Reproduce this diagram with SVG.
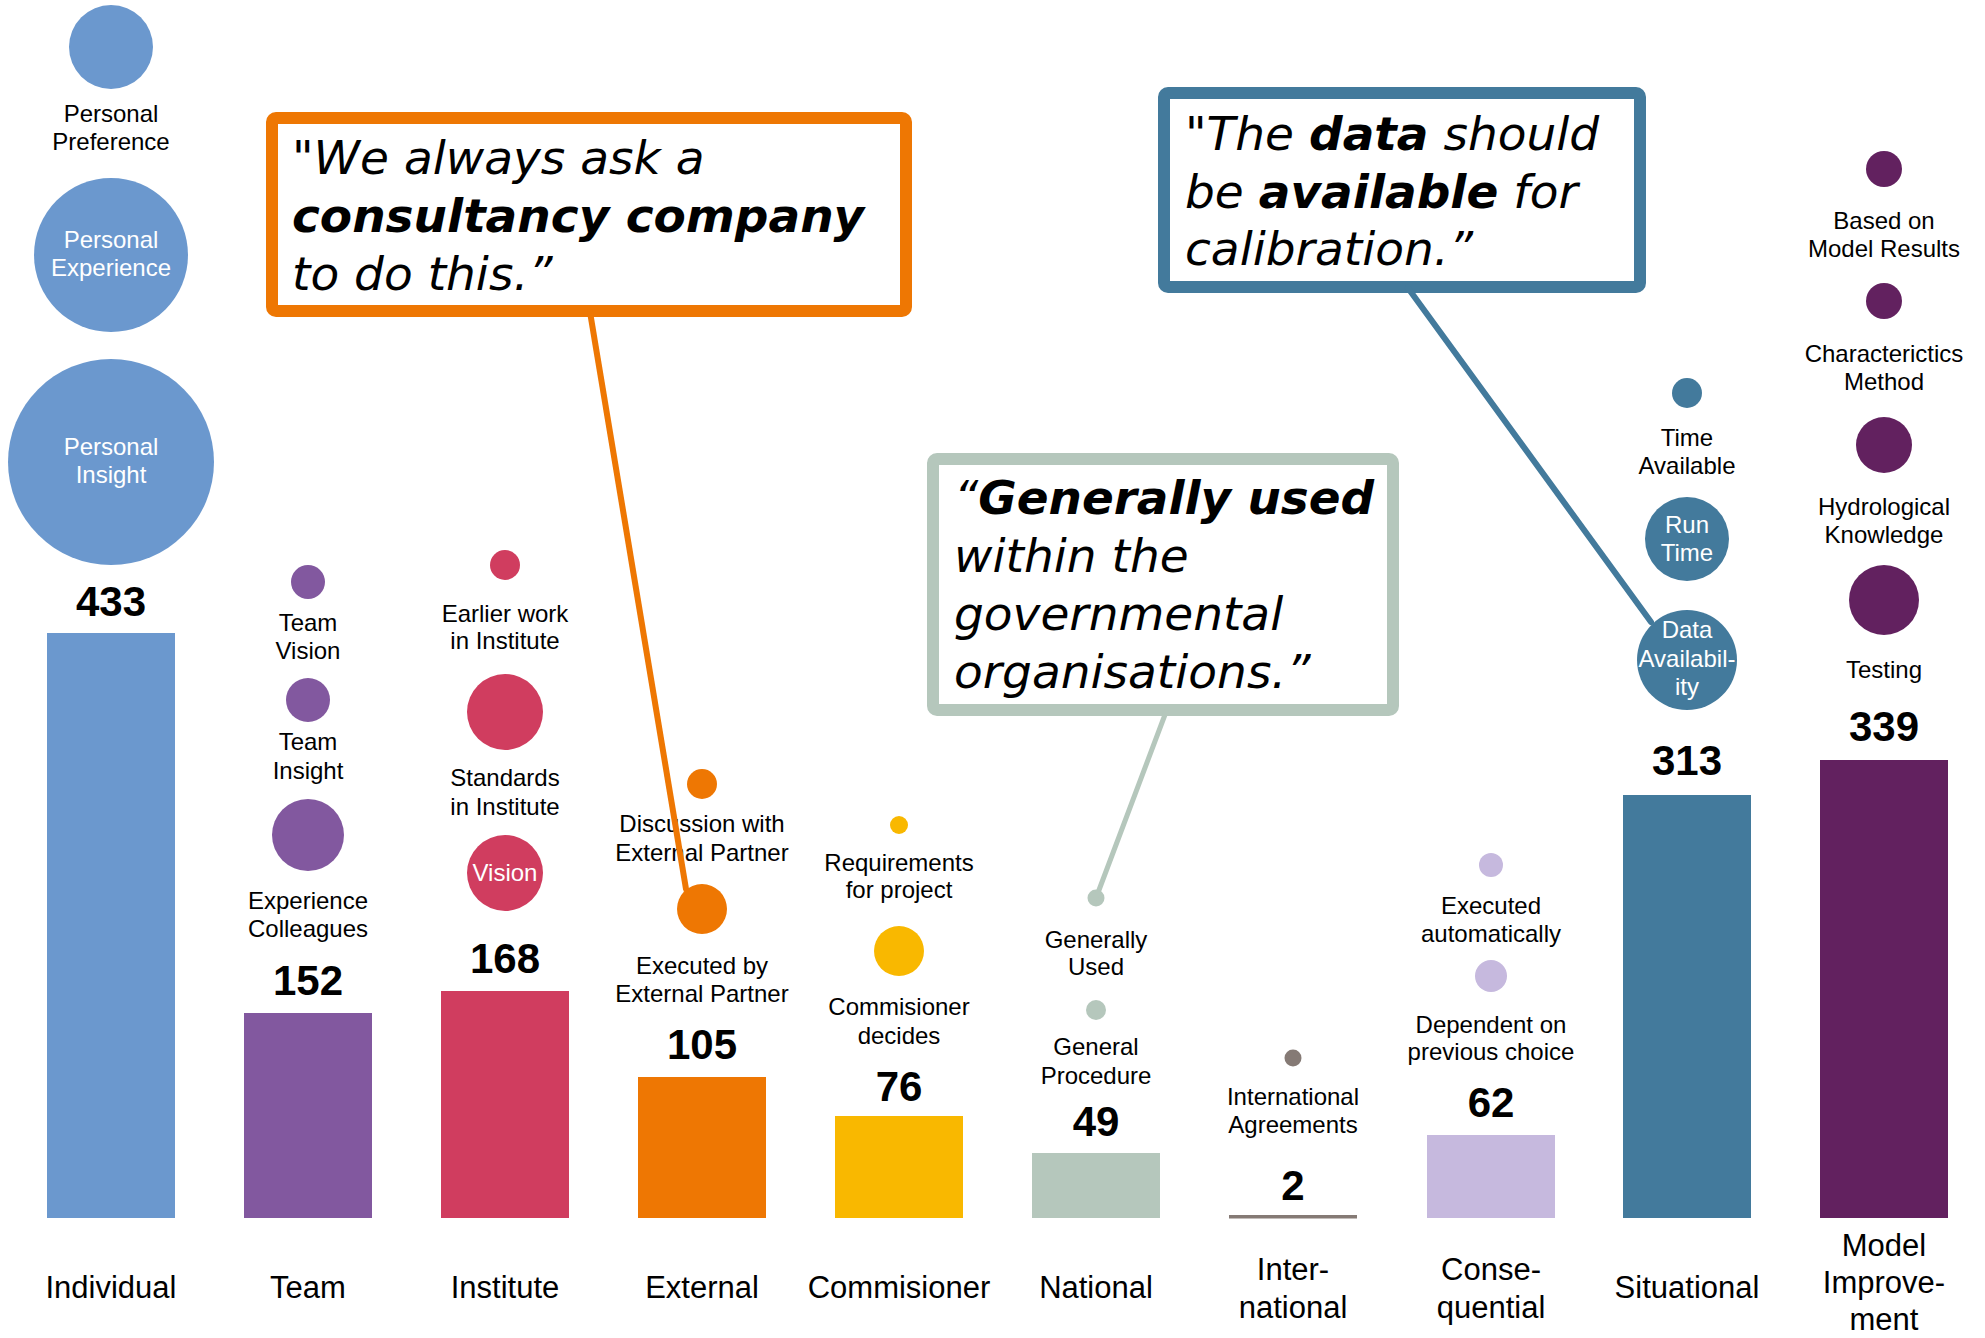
<svg xmlns="http://www.w3.org/2000/svg" width="1985" height="1338" viewBox="0 0 1985 1338">
<style>
text{font-family:"Liberation Sans",Arial,sans-serif;text-anchor:middle}
.l{font-size:24px;fill:#000}
.w{font-size:24px;fill:#fff}
.n{font-size:42px;font-weight:bold;fill:#000}
.c{font-size:31px;fill:#000}
.q{font-family:"DejaVu Sans",Verdana,sans-serif;font-size:47px;font-style:italic;text-anchor:start;fill:#000}
.b{font-weight:bold}
.box{fill:#fff;stroke-width:12}
.conn{fill:none;stroke-linecap:round}
.c1{fill:#6B98CE}.c2{fill:#82589F}.c3{fill:#D03D5F}.c4{fill:#EE7703}.c5{fill:#F9B800}
.c6{fill:#B5C7BC}.c7{fill:#857A75}.c8{fill:#C6B9DE}.c9{fill:#437A9C}.c10{fill:#62215F}
</style>
<rect width="1985" height="1338" fill="#fff"/>

<g id="col-individual">
<circle class="c1" cx="111" cy="47" r="42"/>
<text class="l" x="111" y="122">Personal</text><text class="l" x="111" y="150">Preference</text>
<circle class="c1" cx="111" cy="255" r="77"/>
<text class="w" x="111" y="248">Personal</text><text class="w" x="111" y="276">Experience</text>
<circle class="c1" cx="111" cy="462" r="103"/>
<text class="w" x="111" y="455">Personal</text><text class="w" x="111" y="483">Insight</text>
<text class="n" x="111" y="616">433</text>
<rect class="c1" x="47" y="633" width="128" height="585"/>
<text class="c" x="111" y="1298">Individual</text>
</g>

<g id="col-team">
<circle class="c2" cx="308" cy="582" r="17"/>
<text class="l" x="308" y="631">Team</text><text class="l" x="308" y="659">Vision</text>
<circle class="c2" cx="308" cy="700" r="22"/>
<text class="l" x="308" y="750">Team</text><text class="l" x="308" y="779">Insight</text>
<circle class="c2" cx="308" cy="835" r="36"/>
<text class="l" x="308" y="909">Experience</text><text class="l" x="308" y="937">Colleagues</text>
<text class="n" x="308" y="995">152</text>
<rect class="c2" x="244" y="1013" width="128" height="205"/>
<text class="c" x="308" y="1298">Team</text>
</g>

<g id="col-institute">
<circle class="c3" cx="505" cy="565" r="15"/>
<text class="l" x="505" y="622">Earlier work</text><text class="l" x="505" y="649">in Institute</text>
<circle class="c3" cx="505" cy="712" r="38"/>
<text class="l" x="505" y="786">Standards</text><text class="l" x="505" y="815">in Institute</text>
<circle class="c3" cx="505" cy="873" r="38"/>
<text class="w" x="505" y="881">Vision</text>
<text class="n" x="505" y="973">168</text>
<rect class="c3" x="441" y="991" width="128" height="227"/>
<text class="c" x="505" y="1298">Institute</text>
</g>

<g id="col-external">
<circle class="c4" cx="702" cy="784" r="15"/>
<text class="l" x="702" y="832">Discussion with</text><text class="l" x="702" y="861">External Partner</text>
<circle class="c4" cx="702" cy="909" r="25"/>
<text class="l" x="702" y="974">Executed by</text><text class="l" x="702" y="1002">External Partner</text>
<text class="n" x="702" y="1059">105</text>
<rect class="c4" x="638" y="1077" width="128" height="141"/>
<text class="c" x="702" y="1298">External</text>
</g>

<g id="col-commisioner">
<circle class="c5" cx="899" cy="825" r="9"/>
<text class="l" x="899" y="871">Requirements</text><text class="l" x="899" y="898">for project</text>
<circle class="c5" cx="899" cy="951" r="25"/>
<text class="l" x="899" y="1015">Commisioner</text><text class="l" x="899" y="1044">decides</text>
<text class="n" x="899" y="1101">76</text>
<rect class="c5" x="835" y="1116" width="128" height="102"/>
<text class="c" x="899" y="1298">Commisioner</text>
</g>

<g id="col-national">
<circle class="c6" cx="1096" cy="898" r="8.5"/>
<text class="l" x="1096" y="948">Generally</text><text class="l" x="1096" y="975">Used</text>
<circle class="c6" cx="1096" cy="1010" r="10"/>
<text class="l" x="1096" y="1055">General</text><text class="l" x="1096" y="1084">Procedure</text>
<text class="n" x="1096" y="1136">49</text>
<rect class="c6" x="1032" y="1153" width="128" height="65"/>
<text class="c" x="1096" y="1298">National</text>
</g>

<g id="col-international">
<circle class="c7" cx="1293" cy="1058" r="8.5"/>
<text class="l" x="1293" y="1105">International</text><text class="l" x="1293" y="1133">Agreements</text>
<text class="n" x="1293" y="1200">2</text>
<rect class="c7" x="1229" y="1215" width="128" height="3.5"/>
<text class="c" x="1293" y="1280">Inter-</text><text class="c" x="1293" y="1318">national</text>
</g>

<g id="col-consequential">
<circle class="c8" cx="1491" cy="865" r="12"/>
<text class="l" x="1491" y="914">Executed</text><text class="l" x="1491" y="942">automatically</text>
<circle class="c8" cx="1491" cy="976" r="16"/>
<text class="l" x="1491" y="1033">Dependent on</text><text class="l" x="1491" y="1060">previous choice</text>
<text class="n" x="1491" y="1117">62</text>
<rect class="c8" x="1427" y="1135" width="128" height="83"/>
<text class="c" x="1491" y="1280">Conse-</text><text class="c" x="1491" y="1318">quential</text>
</g>

<g id="col-situational">
<circle class="c9" cx="1687" cy="393" r="15"/>
<text class="l" x="1687" y="446">Time</text><text class="l" x="1687" y="474">Available</text>
<circle class="c9" cx="1687" cy="539" r="42"/>
<text class="w" x="1687" y="533">Run</text><text class="w" x="1687" y="561">Time</text>
<circle class="c9" cx="1687" cy="660" r="50"/>
<text class="w" x="1687" y="638">Data</text><text class="w" x="1687" y="667">Availabil-</text><text class="w" x="1687" y="695">ity</text>
<text class="n" x="1687" y="775">313</text>
<rect class="c9" x="1623" y="795" width="128" height="423"/>
<text class="c" x="1687" y="1298">Situational</text>
</g>

<g id="col-model">
<circle class="c10" cx="1884" cy="169" r="18"/>
<text class="l" x="1884" y="229">Based on</text><text class="l" x="1884" y="257">Model Results</text>
<circle class="c10" cx="1884" cy="301" r="18"/>
<text class="l" x="1884" y="362">Characterictics</text><text class="l" x="1884" y="390">Method</text>
<circle class="c10" cx="1884" cy="445" r="28"/>
<text class="l" x="1884" y="515">Hydrological</text><text class="l" x="1884" y="543">Knowledge</text>
<circle class="c10" cx="1884" cy="600" r="35"/>
<text class="l" x="1884" y="678">Testing</text>
<text class="n" x="1884" y="741">339</text>
<rect class="c10" x="1820" y="760" width="128" height="458"/>
<text class="c" x="1884" y="1256">Model</text><text class="c" x="1884" y="1293">Improve-</text><text class="c" x="1884" y="1330">ment</text>
</g>

<g id="quote-external">
<rect class="box" x="272" y="118" width="634" height="193" rx="4" stroke="#EE7703"/>
<text class="q" x="292" y="174">"We always ask a</text>
<text class="q" x="292" y="232"><tspan class="b">consultancy company</tspan></text>
<text class="q" x="292" y="290">to do this.”</text>
</g>

<g id="quote-situational">
<rect class="box" x="1164" y="93" width="476" height="194" rx="4" stroke="#437A9C"/>
<text class="q" x="1185" y="150">"The <tspan class="b">data</tspan> should</text>
<text class="q" x="1185" y="208">be <tspan class="b">available</tspan> for</text>
<text class="q" x="1185" y="265">calibration.”</text>
</g>

<g id="quote-national">
<rect class="box" x="933" y="459" width="460" height="251" rx="4" stroke="#B5C7BC"/>
<text class="q" x="954" y="514" textLength="420" lengthAdjust="spacingAndGlyphs">“<tspan class="b">Generally used</tspan></text>
<text class="q" x="954" y="572">within the</text>
<text class="q" x="954" y="630">governmental</text>
<text class="q" x="954" y="688">organisations.”</text>
</g>

<g id="connectors">
<line class="conn" x1="590" y1="312" x2="686" y2="889" stroke="#EE7703" stroke-width="6"/>
<line class="conn" x1="1166" y1="712" x2="1096" y2="898" stroke="#B5C7BC" stroke-width="5"/>
<line class="conn" x1="1408" y1="288" x2="1651" y2="622" stroke="#437A9C" stroke-width="6"/>
</g>
</svg>
